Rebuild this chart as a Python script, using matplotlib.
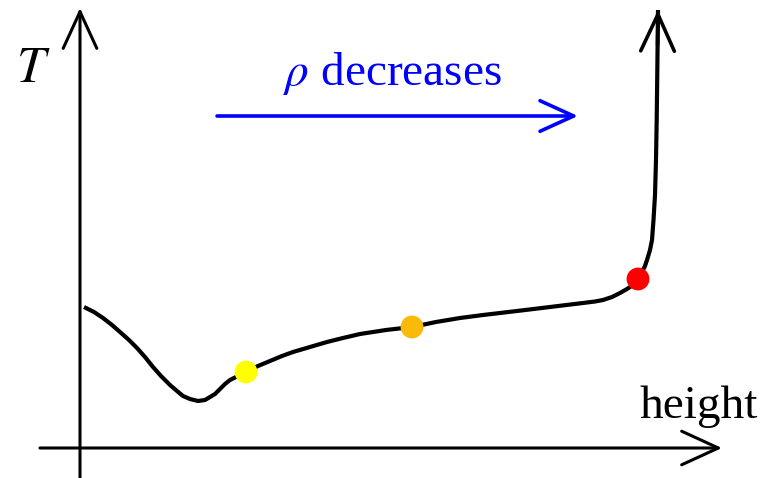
import numpy as np
import matplotlib.pyplot as plt

plt.rcParams['font.family'] = ['Liberation Serif', 'DejaVu Serif']
plt.rcParams['mathtext.fontset'] = 'stix'

H = 478

# curve sketch: height vs temperature
curve_x = [84, 94, 103, 112, 120, 129, 137, 145, 153, 161, 170, 177, 183, 190, 198, 205,
           210, 215, 220, 225, 230, 238, 246, 258, 270, 282, 293, 310, 327, 343, 360, 386,
           412, 436, 460, 483, 517, 550, 583, 595, 603, 612, 620, 627, 633, 638, 642, 645,
           647, 650, 652, 653.5, 655, 656, 656.7, 657.2, 657.6, 658]
curve_y = [307, 312, 318, 325, 332, 340, 348, 357, 367, 376, 385, 391, 396, 399, 401, 400,
           397, 394, 389, 384, 380, 376, 372, 366, 361, 356, 352, 347, 342, 338, 334, 330,
           327, 322, 318, 315, 311, 307, 303, 301.5, 300, 297, 293, 289, 285, 279, 272, 266,
           260, 250, 240, 220, 195, 160, 120, 80, 45, 10]
height = np.array(curve_x)
temp = H - np.array(curve_y)

# marked points on the curve
dot_x = [246, 412, 638]
dot_y = [372, 327, 279]
dot_colors = ['#ffff00', '#f9ba0a', '#ff0000']

fig = plt.figure(figsize=(7.76, 4.78), dpi=100)
ax = fig.add_axes([0, 0, 1, 1])
ax.set_xlim(0, 776)
ax.set_ylim(0, H)
ax.axis('off')

axis_arrow = dict(arrowstyle='->, head_length=1.2, head_width=0.55', color='black',
                  lw=2.2, shrinkA=0, shrinkB=0, mutation_scale=22)
# axes
ax.annotate('', xy=(80, H - 8), xytext=(80, -5), arrowprops=axis_arrow)
ax.annotate('', xy=(722, H - 448), xytext=(40, H - 448), arrowprops=axis_arrow)

# curve
ax.plot(height, temp, color='black', lw=3.0, solid_capstyle='butt',
        solid_joinstyle='round', zorder=3)
ax.annotate('', xy=(height[-1], temp[-1]), xytext=(height[-2], temp[-2]),
            arrowprops=dict(axis_arrow, lw=2.6))

ax.scatter(dot_x, H - np.array(dot_y), s=270, c=dot_colors, zorder=4, linewidths=0)

# density arrow
ax.annotate('', xy=(578, H - 116), xytext=(217, H - 116),
            arrowprops=dict(arrowstyle='->, head_length=1.1, head_width=0.5', color='#0000ff',
                            lw=2.6, shrinkA=0, shrinkB=0, mutation_scale=22))
ax.text(392, H - 85, r'$\rho$ decreases', color='#0000ff', fontsize=34,
        ha='center', va='baseline')

ax.text(16, H - 82, r'$T$', fontsize=37, ha='left', va='baseline')
ax.text(758, H - 418, 'height', fontsize=34, ha='right', va='baseline')

fig.savefig('out.png', dpi=100)
